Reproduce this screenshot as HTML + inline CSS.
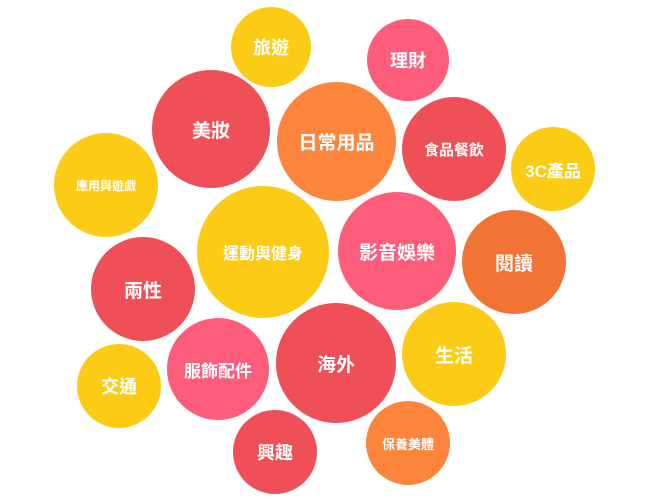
<!DOCTYPE html>
<html><head><meta charset="utf-8"><style>
body{margin:0;width:650px;height:500px;background:#fff;overflow:hidden;position:relative;font-family:"Liberation Sans","Noto Sans CJK TC",sans-serif}
.c{position:absolute;border-radius:50%;color:#fff;font-weight:bold;display:flex;align-items:center;justify-content:center;white-space:nowrap}
</style></head><body>
<div class="c" style="left:231px;top:7px;width:80px;height:80px;background:#FBCB16;font-size:18px">旅遊</div>
<div class="c" style="left:367px;top:19px;width:82px;height:82px;background:#FD5D7A;font-size:18px">理財</div>
<div class="c" style="left:152px;top:70px;width:118px;height:118px;background:#EF5058;font-size:19px">美妝</div>
<div class="c" style="left:277px;top:82px;width:119px;height:119px;background:#FD853B;font-size:19px">日常用品</div>
<div class="c" style="left:402px;top:97px;width:104px;height:104px;background:#EF5058;font-size:15px">食品餐飲</div>
<div class="c" style="left:511px;top:127px;width:84px;height:84px;background:#FBCB16;font-size:17px">3C產品</div>
<div class="c" style="left:54px;top:133px;width:104px;height:104px;background:#FBCB16;font-size:12px">應用與遊戲</div>
<div class="c" style="left:197px;top:186px;width:132px;height:132px;background:#FBCB16;font-size:16px">運動與健身</div>
<div class="c" style="left:338px;top:192px;width:118px;height:118px;background:#FD5D7A;font-size:19px">影音娛樂</div>
<div class="c" style="left:462px;top:210px;width:104px;height:104px;background:#F27435;font-size:19px">閱讀</div>
<div class="c" style="left:91px;top:237px;width:104px;height:104px;background:#EF5058;font-size:19px">兩性</div>
<div class="c" style="left:167px;top:318px;width:102px;height:102px;background:#FD5D7A;font-size:17px">服飾配件</div>
<div class="c" style="left:276px;top:303px;width:120px;height:120px;background:#EF5058;font-size:19px">海外</div>
<div class="c" style="left:402px;top:302px;width:104px;height:104px;background:#FBCB16;font-size:19px">生活</div>
<div class="c" style="left:77px;top:344px;width:84px;height:84px;background:#FBCB16;font-size:18px">交通</div>
<div class="c" style="left:233px;top:410px;width:84px;height:84px;background:#EF5058;font-size:18px">興趣</div>
<div class="c" style="left:366px;top:401px;width:84px;height:84px;background:#FD853B;font-size:13px">保養美體</div>
</body></html>
